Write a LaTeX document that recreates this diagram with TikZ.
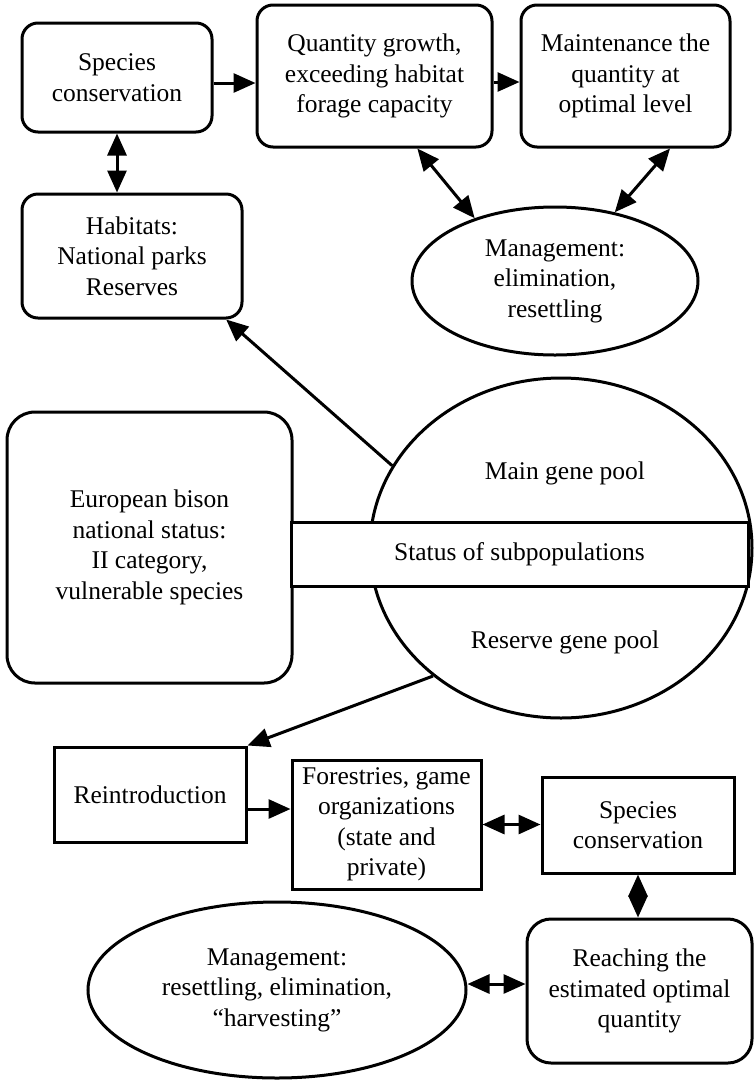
\documentclass[tikz,border=0pt]{standalone}
\usepackage{fontspec}
\setmainfont{Liberation Serif}
\usetikzlibrary{arrows.meta,shapes.geometric,calc}
\begin{document}
\begin{tikzpicture}[x=1pt,y=-1pt,
  every node/.style={font=\fontsize{25.5}{30.5}\selectfont, align=center, inner sep=0pt},
  rbox/.style={draw, line width=3pt, rectangle, rounded corners=16pt},
  sbox/.style={draw, line width=3pt, rectangle},
  ell/.style={draw, line width=3pt, ellipse},
  arr/.style={line width=3pt, -{Triangle[length=22pt,width=19pt]}},
  darr/.style={line width=3pt, {Triangle[length=22pt,width=19pt]}-{Triangle[length=22pt,width=19pt]}}]
\useasboundingbox (0,0) rectangle (754,1080);

% top part
\node[rbox, minimum width=190pt, minimum height=109pt] (sc1) at (117,77.5) {Species\\conservation};
\node[rbox, minimum width=220pt, minimum height=124pt] (hab) at (132,256) {Habitats:\\National parks\\Reserves};
\node[rbox, minimum width=235pt, minimum height=142pt] (qg) at (374.5,76) {Quantity growth,\\exceeding habitat\\forage capacity};
\node[rbox, minimum width=209pt, minimum height=142pt] (mt) at (625.5,76) {Maintenance the\\quantity at\\optimal level};
\node[ell, minimum width=286pt, minimum height=148pt] (mg1) at (555,281) {Management:\\elimination,\\resettling};

% middle part
\node[rbox, rounded corners=28pt, minimum width=285pt, minimum height=271pt] (eb) at (149.5,547.5) {European bison\\national status:\\II category,\\vulnerable species};
\node[ell, minimum width=382pt, minimum height=340pt] (big) at (561,548) {};
\node (mainpool) at (565,473) {Main gene pool};
\node (respool) at (565,642) {Reserve gene pool};
\node[sbox, fill=white, minimum width=457pt, minimum height=64pt] (st) at (519.5,554) {Status of subpopulations};

% bottom part
\node[sbox, minimum width=192pt, minimum height=95pt] (reint) at (150,794.5) {Reintroduction};
\node[sbox, minimum width=189pt, minimum height=129pt] (for) at (386.5,824.5) {Forestries, game\\organizations\\(state and\\private)};
\node[sbox, minimum width=192pt, minimum height=96pt] (sp2) at (638,825) {Species\\conservation};
\node[rbox, rounded corners=24pt, minimum width=225pt, minimum height=144pt] (reach) at (639.5,991) {Reaching the\\estimated optimal\\quantity};
\node[ell, minimum width=378pt, minimum height=176pt] (mg2) at (277,990) {Management:\\resettling, elimination,\\“harvesting”};

% connectors top
\coordinate (a1) at ($(sc1.east)+(0,5.5)$);
\draw[arr] (a1) -- (a1 -| qg.west);
\coordinate (a2) at ($(qg.east)+(0,6)$);
\draw[arr] (a2) -- (a2 -| mt.west);
\draw[darr] (sc1.south) -- (sc1.south |- hab.north);
\coordinate (a3) at ($(qg.south west)!0.68!(qg.south east)$);
\draw[darr] (a3) -- (mg1.142);
\coordinate (a4) at ($(mt.south west)!0.71!(mt.south east)$);
\draw[darr] (a4) -- (mg1.49);

% connectors middle
\draw[arr] (big.154.4) -- (hab.-34);
\draw[arr] (big.225.9) -- (reint.north east);

% connectors bottom
\coordinate (a5) at ($(reint.east)+(0,14.5)$);
\draw[arr] (a5) -- (a5 -| for.west);
\draw[darr] (for.east) -- (for.east -| sp2.west);
\draw[darr] (sp2.south) -- (sp2.south |- reach.north);
\coordinate (a6) at ($(mg2.east)+(0,-6)$);
\draw[darr] (a6) -- (a6 -| reach.west);
\end{tikzpicture}
\end{document}
